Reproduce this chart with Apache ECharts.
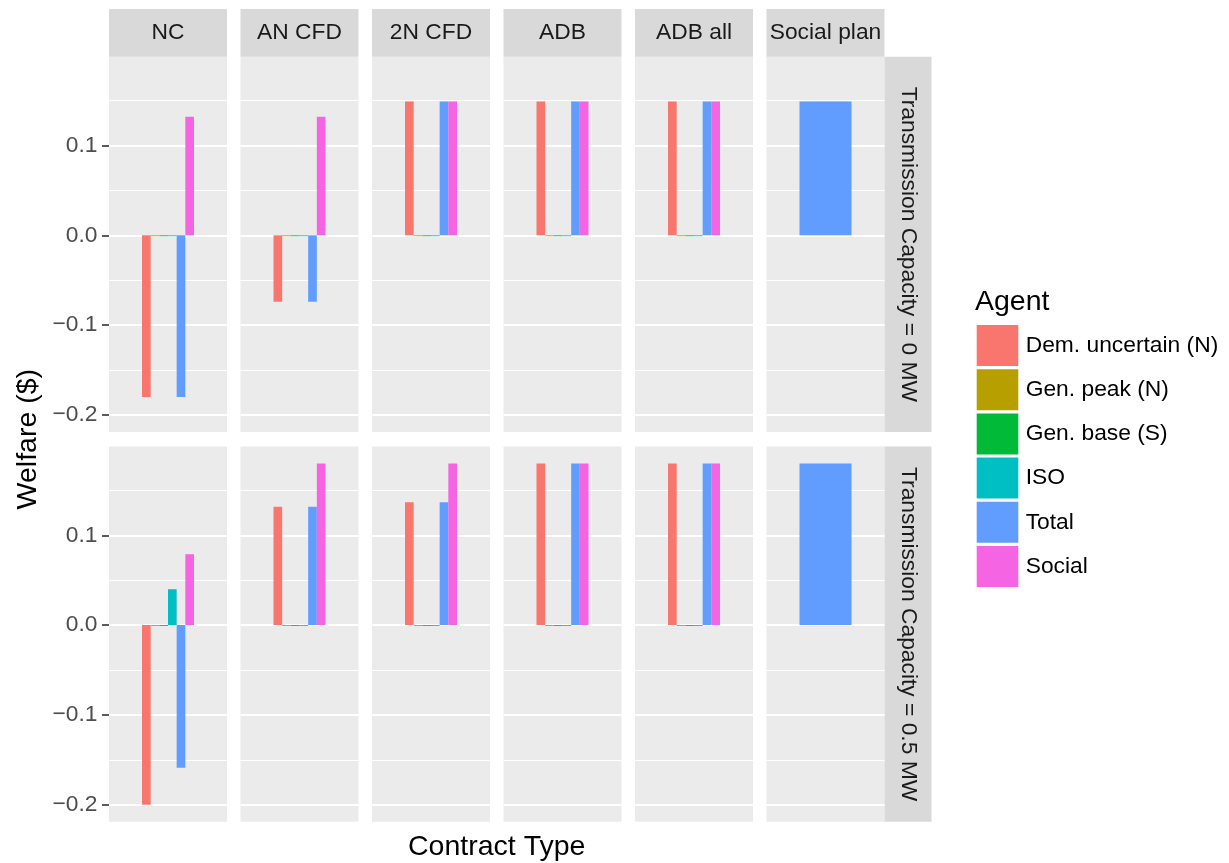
<!DOCTYPE html>
<html>
<head>
<meta charset="utf-8">
<script src="https://cdn.jsdelivr.net/npm/echarts@6/dist/echarts.min.js"></script>
<style>
  html, body { margin: 0; padding: 0; background: #ffffff; }
  #chart { width: 1229px; height: 863px; }
</style>
</head>
<body>
<div id="chart"></div>
<script>
// Facet labels
const contracts = ['NC', 'AN CFD', '2N CFD', 'ADB', 'ADB all', 'Social plan'];
const capacities = ['Transmission Capacity = 0 MW', 'Transmission Capacity = 0.5 MW'];
const agents = ['Dem. uncertain (N)', 'Gen. peak (N)', 'Gen. base (S)', 'ISO', 'Total', 'Social'];
const agentColors = ['#F8766D', '#B79F00', '#00BA38', '#00BFC4', '#619CFF', '#F564E3'];
const yTicks = [-0.2, -0.1, 0.0, 0.1];
const yMinorTicks = [-0.15, -0.05, 0.05, 0.15];

// Welfare by contract type (null: agent not present), capacity = 0 MW
const dem0    = [-0.180, -0.074, 0.149, 0.149, 0.149, null];
const peak0   = [-0.001, -0.001, -0.001, -0.001, -0.001, null];
const base0   = [-0.001, -0.001, -0.001, -0.001, -0.001, null];
const iso0    = [-0.001, -0.001, -0.001, -0.001, -0.001, null];
const total0  = [-0.180, -0.074, 0.149, 0.149, 0.149, 0.149];
const social0 = [0.132, 0.132, 0.149, 0.149, 0.149, null];

// Welfare by contract type, capacity = 0.5 MW
const dem5    = [-0.200, 0.132, 0.137, 0.180, 0.180, null];
const peak5   = [-0.001, -0.001, -0.001, -0.001, -0.001, null];
const base5   = [-0.001, -0.001, -0.001, -0.001, -0.001, null];
const iso5    = [0.040, -0.001, -0.001, -0.001, -0.001, null];
const total5  = [-0.159, 0.132, 0.137, 0.180, 0.180, 0.180];
const social5 = [0.079, 0.180, 0.180, 0.180, 0.180, null];

const welfare = [
  [dem0, peak0, base0, iso0, total0, social0],
  [dem5, peak5, base5, iso5, total5, social5]
];

// Panel geometry
const panelLeft0 = 109, panelStep = 131.5, panelW = 118;
const rowTops = [56.7, 446.5], panelH = 375.2;
const stripTop = 9, stripRightW = 47;
const dodgeWidth = 52;
const yMin = -0.219, yMax = 0.199;
const font = '"Liberation Sans", Arial, Helvetica, sans-serif';

const fmt = v => (v < 0 ? '\u2212' : '') + Math.abs(v).toFixed(1);

const grids = [], xAxes = [], yAxes = [], series = [], graphics = [];

for (let r = 0; r < capacities.length; r++) {
  for (let c = 0; c < contracts.length; c++) {
    const g = r * contracts.length + c;
    const left = panelLeft0 + c * panelStep;
    grids.push({
      left: left, top: rowTops[r], width: panelW, height: panelH,
      show: true, backgroundColor: '#EBEBEB', borderWidth: 0,
      outerBoundsMode: 'none', containLabel: false
    });
    xAxes.push({
      type: 'category', gridIndex: g, data: [contracts[c]],
      axisLine: { show: false }, axisTick: { show: false },
      axisLabel: { show: false }, splitLine: { show: false }
    });
    // major axis: ticks, labels, major grid lines
    yAxes.push({
      type: 'value', gridIndex: g, min: yMin, max: yMax,
      axisLine: { show: false },
      axisTick: {
        show: c === 0, customValues: yTicks, length: 7,
        lineStyle: { color: '#333333', width: 1.6 }
      },
      axisLabel: {
        show: c === 0, customValues: yTicks, margin: 11.5,
        formatter: fmt, color: '#4D4D4D', fontSize: 22.8, fontFamily: font
      },
      splitLine: { show: true, lineStyle: { color: '#FFFFFF', width: 2.2 } }
    });
    // minor grid lines
    yAxes.push({
      type: 'value', gridIndex: g, min: yMin, max: yMax, position: 'left',
      axisLine: { show: false },
      axisTick: { show: false, customValues: yMinorTicks },
      axisLabel: { show: false, customValues: yMinorTicks },
      splitLine: { show: true, lineStyle: { color: '#FFFFFF', width: 1.1 } }
    });

    const present = agents.map((_, a) => welfare[r][a][c]).filter(v => v !== null).length;
    agents.forEach((name, a) => {
      const v = welfare[r][a][c];
      if (v === null) return;
      series.push({
        type: 'bar', name: name,
        xAxisIndex: g, yAxisIndex: 2 * g,
        data: [v],
        barWidth: dodgeWidth / present, barGap: '0%',
        itemStyle: { color: agentColors[a] },
        emphasis: { disabled: true },
        silent: true, z: 3
      });
    });

    // column strip on the top row
    if (r === 0) {
      graphics.push({
        type: 'rect',
        shape: { x: left, y: stripTop, width: panelW, height: rowTops[0] - stripTop },
        style: { fill: '#D9D9D9' }, silent: true
      });
      graphics.push({
        type: 'text', x: left + panelW / 2, y: (stripTop + rowTops[0]) / 2,
        style: {
          text: contracts[c], fill: '#1A1A1A', font: '22.8px ' + font,
          textAlign: 'center', textVerticalAlign: 'middle'
        }, silent: true
      });
    }
  }
  // row strip on the right
  const stripX = panelLeft0 + (contracts.length - 1) * panelStep + panelW;
  graphics.push({
    type: 'rect',
    shape: { x: stripX, y: rowTops[r], width: stripRightW, height: panelH },
    style: { fill: '#D9D9D9' }, silent: true
  });
  graphics.push({
    type: 'text', x: stripX + stripRightW / 2, y: rowTops[r] + panelH / 2,
    rotation: -Math.PI / 2,
    style: {
      text: capacities[r], fill: '#1A1A1A', font: '22.8px ' + font,
      textAlign: 'center', textVerticalAlign: 'middle'
    }, silent: true
  });
}

// axis titles and legend title
const plotRight = panelLeft0 + (contracts.length - 1) * panelStep + panelW;
graphics.push({
  type: 'text', x: (panelLeft0 + plotRight) / 2, y: 847,
  style: { text: 'Contract Type', fill: '#000000', font: '28.5px ' + font,
           textAlign: 'center', textVerticalAlign: 'middle' }, silent: true
});
graphics.push({
  type: 'text', x: 28, y: (rowTops[0] + rowTops[1] + panelH) / 2,
  rotation: Math.PI / 2,
  style: { text: 'Welfare ($)', fill: '#000000', font: '28.5px ' + font,
           textAlign: 'center', textVerticalAlign: 'middle' }, silent: true
});
graphics.push({
  type: 'text', x: 975, y: 302,
  style: { text: 'Agent', fill: '#000000', font: '28.5px ' + font,
           textAlign: 'left', textVerticalAlign: 'middle' }, silent: true
});

const chart = echarts.init(document.getElementById('chart'), null, { renderer: 'canvas' });
chart.setOption({
  animation: false,
  backgroundColor: '#FFFFFF',
  grid: grids,
  xAxis: xAxes,
  yAxis: yAxes,
  series: series,
  legend: {
    data: agents.map(n => ({ name: n, icon: 'rect' })),
    orient: 'vertical', left: 976.7, top: 325, padding: 0,
    itemWidth: 41.6, itemHeight: 41, itemGap: 3.2,
    selectedMode: false,
    textStyle: { fontSize: 22.8, color: '#000000', fontFamily: font, padding: [0, 0, 0, 2.4] }
  },
  graphic: graphics
});
</script>
</body>
</html>
